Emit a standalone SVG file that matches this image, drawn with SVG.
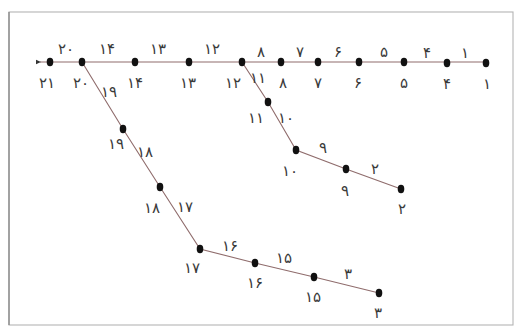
<svg xmlns="http://www.w3.org/2000/svg" width="515" height="327" viewBox="0 0 515 327">
<defs>
<style>
.frame{fill:none;stroke:#b4b4b4;stroke-width:1.1}
.edge{fill:none;stroke:#8f6c6c;stroke-width:1.1}
.dot{fill:#111}
text{font-family:"DejaVu Sans","Noto Sans",sans-serif;font-size:15px;fill:#3a3a3a;text-anchor:middle}
</style>
<marker id="arr" markerWidth="6" markerHeight="6" refX="1" refY="3" orient="auto" markerUnits="userSpaceOnUse">
<path d="M5,0.8 L0,3 L5,5.2 Z" fill="#333"/>
</marker>
</defs>
<rect width="515" height="327" fill="#fff"/>
<rect class="frame" x="9" y="12" width="504" height="313"/>
<line x1="9" y1="12" x2="9" y2="325" stroke="#8c8c8c" stroke-width="1.4"/>
<g id="connectors">
<line class="edge" x1="487" y1="62" x2="40" y2="62" marker-end="url(#arr)"/>
<polyline class="edge" points="82,62 123,129 160,187 200,249 255,263 314,277 379,293"/>
<polyline class="edge" points="242,62 268,102 296,150 346,169 401,189"/>
<g id="edge-labels">
<text x="66" y="54">۲۰</text>
<text x="107" y="54">۱۴</text>
<text x="158" y="54">۱۳</text>
<text x="212" y="54">۱۲</text>
<text x="261" y="57">۸</text>
<text x="300" y="57">۷</text>
<text x="338" y="57">۶</text>
<text x="384" y="57">۵</text>
<text x="427" y="58">۴</text>
<text x="465" y="58">۱</text>
<text x="109" y="97">۱۹</text>
<text x="145" y="157">۱۸</text>
<text x="185" y="212">۱۷</text>
<text x="230" y="251">۱۶</text>
<text x="284" y="263">۱۵</text>
<text x="348" y="279">۳</text>
<text x="258" y="83">۱۱</text>
<text x="286" y="123">۱۰</text>
<text x="323" y="153">۹</text>
<text x="375" y="174">۲</text>
</g>
</g>
<g id="n21"><ellipse class="dot" cx="50" cy="62" rx="3.3" ry="4.2"/><text x="47" y="88">۲۱</text></g>
<g id="n20"><ellipse class="dot" cx="82" cy="62" rx="3.3" ry="4.2"/><text x="81" y="88">۲۰</text></g>
<g id="n14"><ellipse class="dot" cx="135" cy="62" rx="3.3" ry="4.2"/><text x="135" y="88">۱۴</text></g>
<g id="n13"><ellipse class="dot" cx="189" cy="62" rx="3.3" ry="4.2"/><text x="188" y="88">۱۳</text></g>
<g id="n12"><ellipse class="dot" cx="242" cy="62" rx="3.3" ry="4.2"/><text x="233" y="88">۱۲</text></g>
<g id="n8"><ellipse class="dot" cx="281" cy="62" rx="3.3" ry="4.2"/><text x="283" y="88">۸</text></g>
<g id="n7"><ellipse class="dot" cx="318" cy="62" rx="3.3" ry="4.2"/><text x="318" y="88">۷</text></g>
<g id="n6"><ellipse class="dot" cx="359" cy="62" rx="3.3" ry="4.2"/><text x="358" y="88">۶</text></g>
<g id="n5"><ellipse class="dot" cx="404" cy="62" rx="3.3" ry="4.2"/><text x="404" y="88">۵</text></g>
<g id="n4"><ellipse class="dot" cx="447" cy="63" rx="3.3" ry="4.2"/><text x="447" y="89">۴</text></g>
<g id="n1"><ellipse class="dot" cx="486" cy="63" rx="3.3" ry="4.2"/><text x="487" y="89">۱</text></g>
<g id="n19"><ellipse class="dot" cx="123" cy="129" rx="3.3" ry="4.2"/><text x="116" y="149">۱۹</text></g>
<g id="n18"><ellipse class="dot" cx="160" cy="187" rx="3.3" ry="4.2"/><text x="152" y="213">۱۸</text></g>
<g id="n17"><ellipse class="dot" cx="200" cy="249" rx="3.3" ry="4.2"/><text x="192" y="273">۱۷</text></g>
<g id="n16"><ellipse class="dot" cx="255" cy="263" rx="3.3" ry="4.2"/><text x="255" y="288">۱۶</text></g>
<g id="n15"><ellipse class="dot" cx="314" cy="277" rx="3.3" ry="4.2"/><text x="313" y="302">۱۵</text></g>
<g id="n3"><ellipse class="dot" cx="379" cy="293" rx="3.3" ry="4.2"/><text x="378" y="318">۳</text></g>
<g id="n11"><ellipse class="dot" cx="268" cy="102" rx="3.3" ry="4.2"/><text x="256" y="123">۱۱</text></g>
<g id="n10"><ellipse class="dot" cx="296" cy="150" rx="3.3" ry="4.2"/><text x="290" y="176">۱۰</text></g>
<g id="n9"><ellipse class="dot" cx="346" cy="169" rx="3.3" ry="4.2"/><text x="345" y="196">۹</text></g>
<g id="n2"><ellipse class="dot" cx="401" cy="189" rx="3.3" ry="4.2"/><text x="402" y="214">۲</text></g>
</svg>
